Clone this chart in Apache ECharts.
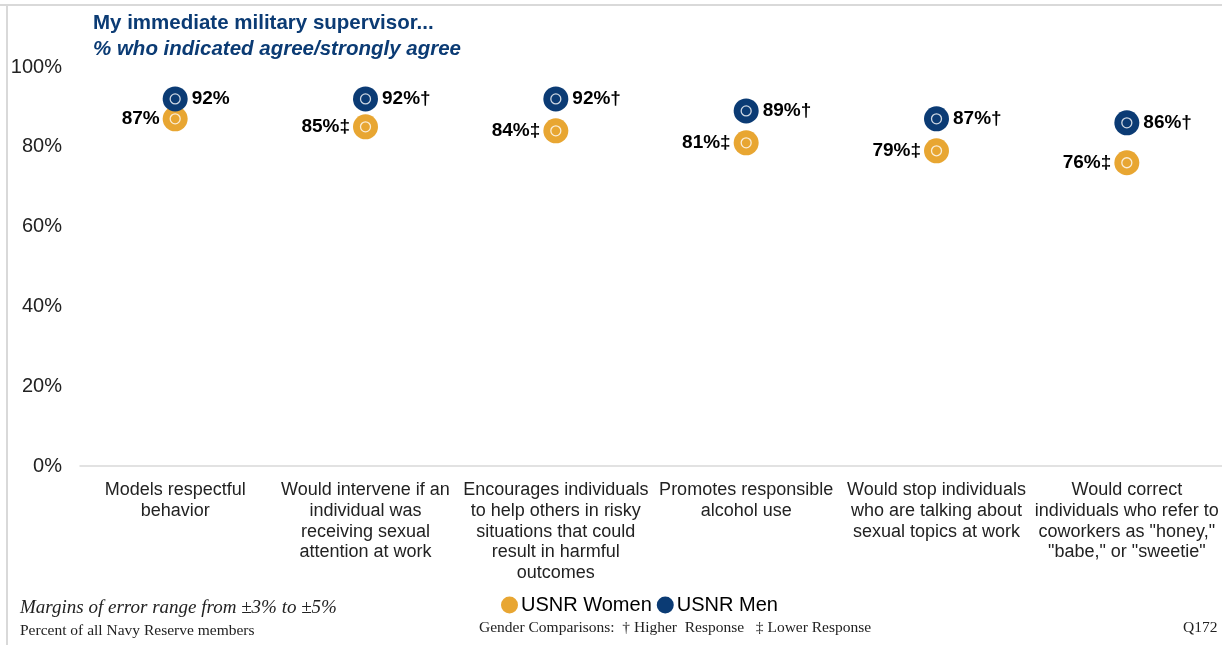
<!DOCTYPE html>
<html>
<head>
<meta charset="utf-8">
<script src="https://cdn.jsdelivr.net/npm/echarts@6/dist/echarts.min.js"></script>
<style>
 html,body{margin:0;padding:0;background:#fff;}
 #chart{width:1222px;height:645px;}
</style>
</head>
<body>
<div id="chart"></div>
<script>
var categories = [
 "Models respectful\nbehavior",
 "Would intervene if an\nindividual was\nreceiving sexual\nattention at work",
 "Encourages individuals\nto help others in risky\nsituations that could\nresult in harmful\noutcomes",
 "Promotes responsible\nalcohol use",
 "Would stop individuals\nwho are talking about\nsexual topics at work",
 "Would correct\nindividuals who refer to\ncoworkers as \"honey,\"\n\"babe,\" or \"sweetie\""
];
var women = [87, 85, 84, 81, 79, 76];
var men = [92, 92, 92, 89, 87, 86];
var womenMark = ["", "‡", "‡", "‡", "‡", "‡"];
var menMark = ["", "†", "†", "†", "†", "†"];
var yTicks = [0, 20, 40, 60, 80, 100];

var orange = "#E8A632";
var navy = "#0B3B74";

var chart = echarts.init(document.getElementById("chart"));

function ring(data){
 return {
  type:"scatter",
  data:data,
  symbol:"circle",
  symbolSize:10,
  silent:true,
  z:5,
  itemStyle:{color:"rgba(0,0,0,0)",borderColor:"#fff",borderWidth:1.3}
 };
}

var series = [
 {
  name:"USNR Women",
  type:"scatter",
  data:women,
  symbol:"circle",
  symbolSize:25,
  z:3,
  itemStyle:{color:orange,opacity:1},
  label:{
   show:true,
   position:"left",
   distance:3,
   color:"#000",
   fontFamily:"Arial",
   fontWeight:"bold",
   fontSize:19,
   formatter:function(p){return p.value+"%"+womenMark[p.dataIndex];}
  }
 },
 {
  name:"USNR Men",
  type:"scatter",
  data:men,
  symbol:"circle",
  symbolSize:25,
  z:4,
  itemStyle:{color:navy,opacity:1},
  label:{
   show:true,
   position:"right",
   distance:4,
   color:"#000",
   fontFamily:"Arial",
   fontWeight:"bold",
   fontSize:19,
   formatter:function(p){return p.value+"%"+menMark[p.dataIndex];}
  }
 },
 ring(women),
 ring(men)
];

var option = {
 animation:false,
 grid:{left:80,right:0,top:67,bottom:179},
 legend:{
  data:["USNR Women","USNR Men"],
  left:496,
  top:590,
  icon:"circle",
  itemWidth:17,
  itemHeight:17,
  itemGap:5,
  textStyle:{fontFamily:"Arial",fontSize:20,color:"#000",padding:[0,0,0,-2]}
 },
 xAxis:{
  type:"category",
  data:categories,
  axisLine:{lineStyle:{color:"#D9D9D9",width:1.5}},
  axisTick:{show:false},
  axisLabel:{
   interval:0,
   margin:14,
   color:"#222",
   fontFamily:"Arial",
   fontSize:18,
   lineHeight:20.7,
   align:"center"
  }
 },
 yAxis:{
  type:"value",
  min:0,
  max:100,
  interval:20,
  splitLine:{show:false},
  axisLine:{show:false},
  axisTick:{show:false},
  axisLabel:{
   margin:18,
   color:"#222",
   fontFamily:"Arial",
   fontSize:20,
   formatter:function(v){return yTicks.indexOf(v)>=0?v+"%":"";}
  }
 },
 graphic:[
  {type:"line",shape:{x1:0,y1:5,x2:1222,y2:5},style:{stroke:"#D9D9D9",lineWidth:2}},
  {type:"line",shape:{x1:7,y1:5,x2:7,y2:645},style:{stroke:"#D9D9D9",lineWidth:2}},
  {type:"text",left:93,top:13,style:{text:"My immediate military supervisor...",font:"bold 20.5px Arial",fill:navy}},
  {type:"text",left:93,top:39,style:{text:"% who indicated agree/strongly agree",font:"italic bold 20.5px Arial",fill:navy}},
  {type:"text",left:20,top:598,style:{text:"Margins of error range from ±3% to ±5%",font:"italic 19px 'Liberation Serif'",fill:"#222"}},
  {type:"text",left:20,top:623,style:{text:"Percent of all Navy Reserve members",font:"15.5px 'Liberation Serif'",fill:"#222"}},
  {type:"text",left:479,top:620,style:{text:"Gender Comparisons:  † Higher  Response   ‡ Lower Response",font:"15.5px 'Liberation Serif'",fill:"#222"}},
  {type:"text",left:1183,top:620,style:{text:"Q172",font:"15.5px 'Liberation Serif'",fill:"#222"}}
 ],
 series:series
};
chart.setOption(option);
</script>
</body>
</html>
